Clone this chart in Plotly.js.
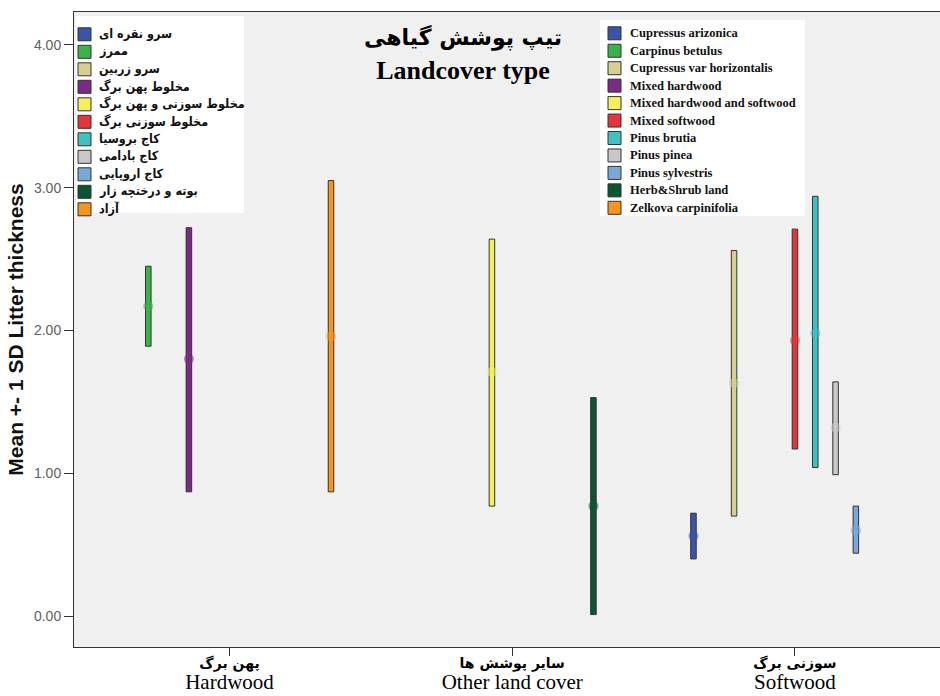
<!DOCTYPE html>
<html>
<head>
<meta charset="utf-8">
<script src="https://cdn.plot.ly/plotly-3.0.1.min.js"></script>
<style>html,body{margin:0;padding:0;background:#fff;}#chart{width:940px;height:696px;}</style>
</head>
<body>
<div id="chart"></div>
<script>
// Categories (x axis)
const categories = ['Hardwood', 'Other land cover', 'Softwood'];
const categoriesFa = ['پهن برگ', 'سایر پوشش ها', 'سوزنی برگ'];

// Landcover types (legend order)
const speciesEn = ['Cupressus arizonica', 'Carpinus betulus', 'Cupressus var horizontalis', 'Mixed hardwood',
  'Mixed hardwood and softwood', 'Mixed softwood', 'Pinus brutia', 'Pinus pinea', 'Pinus sylvestris',
  'Herb&Shrub land', 'Zelkova carpinifolia'];
const speciesFa = ['سرو نقره ای', 'ممرز', 'سرو زربین', 'مخلوط پهن برگ', 'مخلوط سوزنی و پهن برگ',
  'مخلوط سوزنی برگ', 'کاج بروسیا', 'کاج بادامی', 'کاج اروپایی', 'بوته و درختچه زار', 'آزاد'];
// category index of each type
const speciesGroup = [2, 0, 2, 0, 1, 2, 2, 2, 2, 1, 0];

// Mean and mean +- 1 SD of litter thickness
const meanVals  = [0.56, 2.17, 1.63, 1.80, 1.71, 1.93, 1.98, 1.32, 0.60, 0.77, 1.96];
const lowerVals = [0.40, 1.89, 0.70, 0.87, 0.77, 1.17, 1.04, 0.99, 0.44, 0.01, 0.87];
const upperVals = [0.72, 2.45, 2.56, 2.72, 2.64, 2.71, 2.94, 1.64, 0.77, 1.53, 3.05];

const colors = ['#3a55a8', '#3cb34a', '#d6cf8f', '#7b2a85', '#f5f05a', '#e3353a', '#3fc1c3',
  '#c8c8c8', '#7aa7da', '#0b5530', '#f5941e'];

const yTicks = [0, 1, 2, 3, 4];

// ---- geometry helpers (plot area in pixels) ----
const PL = 74, PW = 866, PT = 12, PH = 635;
const px = v => (v - PL) / PW;          // pixel x -> paper x
const py = v => (PT + PH - v) / PH;     // pixel y -> paper y

// layout of the clustered slots
const SLOT = 0.0718;
const BARW = 0.0195;
const nTypes = speciesEn.length;
const mid = (nTypes - 1) / 2;

const traces = [];
// Error bars (mean +- 1 SD) as floating bars
for (let i = 0; i < nTypes; i++) {
  const xpos = speciesGroup[i] + (i - mid) * SLOT;
  traces.push({
    type: 'bar', x: [xpos], y: [upperVals[i] - lowerVals[i]], base: [lowerVals[i]], width: [BARW],
    name: speciesEn[i], showlegend: false,
    marker: {color: colors[i], line: {color: '#333', width: 1}},
    hovertemplate: speciesEn[i] + '<br>%{base:.2f} – ' + upperVals[i].toFixed(2) + '<extra></extra>'
  });
}
// Means
for (let i = 0; i < nTypes; i++) {
  const xpos = speciesGroup[i] + (i - mid) * SLOT;
  traces.push({
    type: 'scatter', mode: 'markers', x: [xpos], y: [meanVals[i]], showlegend: false,
    name: speciesEn[i] + ' mean',
    marker: {color: colors[i], size: 10, opacity: 0.55},
    hovertemplate: speciesEn[i] + ' mean: %{y:.2f}<extra></extra>'
  });
}

// ---- two legend boxes (Persian and English) ----
const shapes = [];
const annotations = [];
const legends = [
  {names: speciesFa, box: [76, 16, 244, 213], sq: 78, first: 34.3, step: 17.5, tx: 97,
   font: {family: 'DejaVu Sans Condensed, DejaVu Sans', size: 12.5, color: '#111', weight: 'bold'}, dy: -1},
  {names: speciesEn, box: [600, 20, 805, 216], sq: 608, first: 33.3, step: 17.45, tx: 628,
   font: {family: 'Liberation Serif', size: 12.5, color: '#111', weight: 'bold'}, dy: 0}
];
legends.forEach(L => {
  shapes.push({type: 'rect', xref: 'paper', yref: 'paper', layer: 'above',
    x0: px(L.box[0]), x1: px(L.box[2]), y0: py(L.box[3]), y1: py(L.box[1]),
    fillcolor: '#ffffff', line: {width: 0}});
  L.names.forEach((nm, i) => {
    const cy = L.first + i * L.step;
    shapes.push({type: 'rect', xref: 'paper', yref: 'paper', layer: 'above',
      x0: px(L.sq), x1: px(L.sq + 13), y0: py(cy + 6.5), y1: py(cy - 6.5),
      fillcolor: colors[i], line: {color: '#333', width: 1}});
    annotations.push({xref: 'paper', yref: 'paper', x: px(L.tx), y: py(cy + L.dy),
      xanchor: 'left', yanchor: 'middle', showarrow: false, text: nm, font: L.font});
  });
});

const tickText = categories.map((c, i) =>
  '<b><span style="font-family:\'DejaVu Sans\';font-size:14px">' + categoriesFa[i] +
  '</span></b><br><span style="font-size:21px">' + c + '</span>');

const layout = {
  width: 940, height: 696,
  margin: {l: PL, r: 940 - PL - PW, t: PT, b: 696 - PT - PH},
  paper_bgcolor: '#ffffff',
  plot_bgcolor: '#f0f0f0',
  barmode: 'overlay',
  showlegend: false,
  title: {
    text: '<b><span style="font-family:\'DejaVu Sans\';font-size:22px">تیپ پوشش گیاهی</span></b><br><b>Landcover type</b>',
    font: {family: 'Liberation Serif', size: 26, color: '#000'},
    x: 0.4926, xanchor: 'center', y: 0.935, yanchor: 'top'
  },
  xaxis: {
    type: 'linear', range: [-0.55, 2.513],
    tickvals: [0, 1, 2], ticktext: tickText,
    ticks: 'outside', ticklen: 8, tickcolor: '#333', tickwidth: 1,
    ticklabelstandoff: -7,
    showline: true, linecolor: '#333', linewidth: 1, mirror: true,
    showgrid: false, zeroline: false,
    tickfont: {family: 'Liberation Serif', size: 16, color: '#000'}
  },
  yaxis: {
    range: [-0.217, 4.231],
    tickvals: yTicks, tickformat: '.2f',
    ticks: 'outside', ticklen: 9, tickcolor: '#333', tickwidth: 1,
    showline: true, linecolor: '#333', linewidth: 1,
    showgrid: false, zeroline: false,
    tickfont: {family: 'Liberation Sans', size: 14, color: '#606060'},
    title: {
      text: 'Mean +- 1 SD Litter thickness',
      font: {family: 'Liberation Sans Narrow, Liberation Sans', size: 21, color: '#111', weight: 'bold'},
      standoff: 4
    }
  },
  shapes: shapes,
  annotations: annotations
};

Plotly.newPlot('chart', traces, layout, {displayModeBar: false, responsive: false});
</script>
</body>
</html>
